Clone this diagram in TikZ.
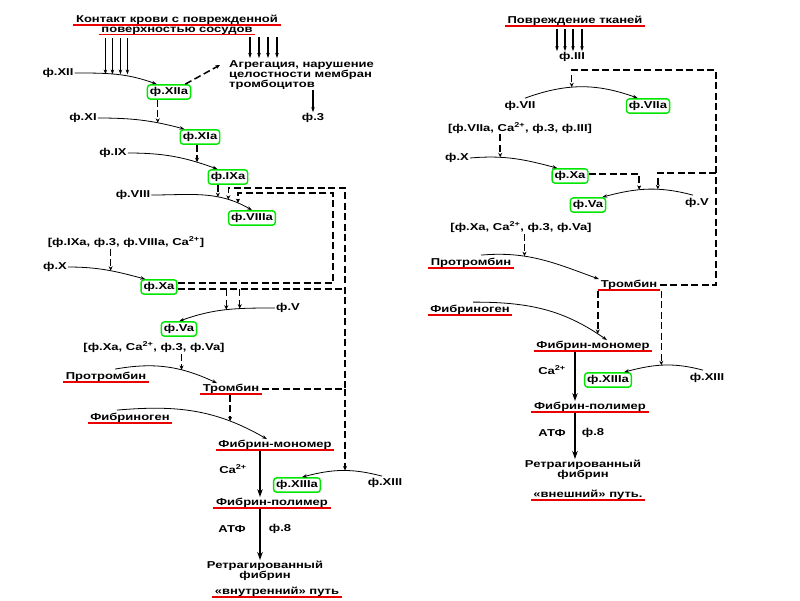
\documentclass[tikz,border=0pt]{standalone}
\usepackage{fontspec}
\setmainfont{Liberation Sans}[FakeStretch=1.3]
\usetikzlibrary{arrows.meta, calc}
\definecolor{boxgreen}{RGB}{0,230,0}
\definecolor{ulred}{RGB}{235,0,0}

\begin{document}
\begin{tikzpicture}[x=1pt, y=1pt,
    lbl/.style={font=\bfseries\fontsize{10}{10}\selectfont, inner sep=1pt},
    fact/.style={lbl, draw=boxgreen, line width=1.4pt, rounded corners=3pt, inner sep=2.5pt},
    uline/.style={lbl, inner xsep=2.5pt},
    redline/.style={draw=ulred, line width=1.6pt},
    flow/.style={-{Stealth[length=5pt, width=3.5pt]}, line width=0.8pt},
    feed/.style={dash pattern=on 7pt off 3.5pt, line width=1.5pt},
    feedarr/.style={feed, -{Stealth[length=4.5pt, width=4pt]}},
    main/.style={-{Stealth[length=8pt, width=5.5pt]}, line width=2pt}
]
\useasboundingbox (0,0) rectangle (800,-600);

% ---------- internal pathway ----------
\node[uline] (ttl1) at (177,-20) {Контакт крови с поврежденной};
\node[uline] (ttl2) at (177,-30.5) {поверхностью сосудов};

\node[lbl] (f12) at (58,-73) {ф.XII};
\node[fact] (f12a) at (169,-92) {ф.XIIa};
\node[lbl, align=left, anchor=north west] (agg) at (228,-59) {Агрегация, нарушение\\целостности мембран\\тромбоцитов};
\node[lbl] (f3) at (313,-118) {ф.3};
\node[lbl] (f11) at (83,-118) {ф.XI};
\node[fact] (f11a) at (200,-137) {ф.XIa};
\node[lbl] (f9) at (113,-153) {ф.IX};
\node[fact] (f9a) at (228,-177) {ф.IXa};
\node[lbl] (f8) at (133,-195) {ф.VIII};
\node[fact] (f8a) at (252,-218) {ф.VIIIa};
\node[lbl] (br1) at (126,-242) {[ф.IXa, ф.3, ф.VIIIa, Ca\textsuperscript{2+}]};
\node[lbl] (f10) at (55,-267) {ф.X};
\node[fact] (f10a) at (159,-287) {ф.Xa};
\node[lbl] (f5) at (288,-308) {ф.V};
\node[fact] (f5a) at (179,-329) {ф.Va};
\node[lbl] (br2) at (154,-347) {[ф.Xa, Ca\textsuperscript{2+}, ф.3, ф.Va]};
\node[uline] (pro) at (106,-377) {Протромбин};
\node[uline] (thr) at (231,-389) {Тромбин};
\node[uline] (fib) at (130,-418) {Фибриноген};
\node[uline] (fm) at (275,-445) {Фибрин-мономер};
\node[lbl] (ca1) at (233,-469) {Ca\textsuperscript{2+}};
\node[lbl] (f13) at (385,-483) {ф.XIII};
\node[fact] (f13a) at (297,-485) {ф.XIIIa};
\node[uline] (fp) at (272,-503) {Фибрин-полимер};
\node[lbl] (atp1) at (232,-529) {АТФ};
\node[lbl] (fe1) at (280,-529) {ф.8};
\node[lbl, align=center] (ret1) at (265,-571) {Ретрагированный\\фибрин};
\node[uline] (path1) at (277,-592) {«внутренний» путь};

% curves of activation
\draw[flow] (f12.east) to[out=0, in=160] coordinate[pos=0.5] (j12) ([xshift=10pt]f12a.north west);
\draw[flow] (f11.east) to[out=0, in=165] coordinate[pos=0.7] (j11) ([xshift=5pt]f11a.north west);
\draw[flow] (f9.east) to[out=0, in=160] coordinate[pos=0.78] (j9) ([xshift=10pt]f9a.north west);
\draw[flow] (f8.east) to[out=0, in=150] coordinate[pos=0.65] (j8a) coordinate[pos=0.76] (j8b) coordinate[pos=0.86] (j8c) (f8a.north);
\draw[flow] (f10.east) to[out=0, in=165] coordinate[pos=0.55] (j10) ([xshift=5pt]f10a.north west);
\draw[flow] (f5.west) to[out=180, in=20] coordinate[pos=0.35] (j5b) coordinate[pos=0.5] (j5a) ([xshift=-18pt]f5a.north east);
\draw[flow] ([xshift=9pt, yshift=2pt]pro.north) to[out=10, in=155] coordinate[pos=0.65] (j6) ([xshift=-14pt]thr.north);
\draw[flow] ([xshift=-13pt, yshift=2pt]fib.north) to[out=5, in=150] coordinate[pos=0.75] (j7) ([xshift=-8pt]fm.north);
\draw[flow] ([xshift=-3pt, yshift=1pt]f13.north) to[out=165, in=15] coordinate[pos=0.45] (j13) ([xshift=5pt]f13a.north);

% contact and platelets
\foreach \dx in {-11,-4,4,11}
  \draw[flow, line width=1.3pt] ($(j12 |- ttl2.south)+(\dx,-3)$) -- ($(j12)+(\dx,0)$);
\foreach \dx in {22,31,40,49}
  \draw[flow, line width=1.3pt] ($(agg.north west |- ttl2.south)+(\dx,-2)$) -- ($(agg.north west)+(\dx,1)$);
\draw[feedarr] ([xshift=-6pt]f12a.north east) -- ([xshift=-8pt, yshift=-6pt]agg.north west);
\draw[flow, line width=1.3pt] (f3 |- agg.south) -- (f3.north);

% cascade
\draw[feedarr] (f12a.south -| j11) -- (j11);
\draw[feedarr] (f11a.south -| j9) -- (j9);
\draw[feedarr] (f9a.south -| j8a) -- (j8a);
\draw[feedarr] (br1.south -| j10) -- (j10);
\draw[feedarr] (br2.south -| j6) -- (j6);
\draw[feedarr] (thr.south -| j7) -- (j7);

% feedback loops
\coordinate (li) at (333,-193);
\coordinate (lo) at (345,-188);
\coordinate (xl) at ([yshift=-2pt]f10a.east);
\draw[feedarr] ([yshift=4pt]f10a.east) -| (li) -- (li -| j8c) -- (j8c);
\draw[feedarr] (thr.east) -| (lo) -- (lo -| j8b) -- (j8b);
\draw[feed] (xl) -- (xl -| lo);
\draw[feedarr] (xl -| j5a) -- (j5a);
\draw[feedarr] (xl -| j5b) -- (j5b);
\draw[feedarr] (lo |- thr.east) -- (lo |- j13);

% fibrin
\draw[main] ([xshift=-15pt]fm.south) -- ([xshift=-15pt]fm.south |- fp.north);
\draw[main] ([xshift=-12pt]fp.south) -- ([xshift=-12pt]fp.south |- ret1.north);

% ---------- external pathway ----------
\node[uline] (rttl) at (575,-21) {Повреждение тканей};
\node[lbl] (f3r) at (572,-57) {ф.III};
\node[lbl] (f7r) at (520,-106) {ф.VII};
\node[fact] (f7ar) at (648,-106) {ф.VIIa};
\node[lbl] (br3) at (520,-128) {[ф.VIIa, Ca\textsuperscript{2+}, ф.3, ф.III]};
\node[lbl] (f10r) at (457,-158) {ф.X};
\node[fact] (f10ar) at (570,-176) {ф.Xa};
\node[lbl] (f5r) at (697,-203) {ф.V};
\node[fact] (f5ar) at (588,-205) {ф.Va};
\node[lbl] (br4) at (521,-227) {[ф.Xa, Ca\textsuperscript{2+}, ф.3, ф.Va]};
\node[uline] (pror) at (471,-263) {Протромбин};
\node[uline] (thrr) at (629,-285) {Тромбин};
\node[uline] (fibr) at (470,-310) {Фибриноген};
\node[uline] (fmr) at (593,-346) {Фибрин-мономер};
\node[lbl] (ca2) at (552,-370) {Ca\textsuperscript{2+}};
\node[fact] (f13ar) at (608,-380) {ф.XIIIa};
\node[lbl] (f13r) at (707,-378) {ф.XIII};
\node[uline] (fpr) at (590,-407) {Фибрин-полимер};
\node[lbl] (atp2) at (552,-433) {АТФ};
\node[lbl] (fe2) at (593,-433) {ф.8};
\node[lbl, align=center] (ret2) at (583,-470) {Ретрагированный\\фибрин};
\node[uline] (path2) at (588,-495) {«внешний» путь.};

\foreach \dx in {-15,-7,1,10}
  \draw[flow, line width=1.3pt] ($(rttl.south -| f3r)+(\dx,-2)$) -- ($(f3r.north)+(\dx,0)$);

\draw[flow] ([xshift=5pt, yshift=2pt]f7r.north) to[out=20, in=160] coordinate[pos=0.41] (j7r) ([xshift=12pt]f7ar.north west);
\draw[flow] (f10r.east) to[out=5, in=165] coordinate[pos=0.33] (j10r) ([xshift=6pt]f10ar.north west);
\draw[flow] ([xshift=-4pt, yshift=2pt]f5r.north) to[out=165, in=15] coordinate[pos=0.38] (j5r2) coordinate[pos=0.6] (j5r1) ([xshift=-4pt]f5ar.north east);
\draw[flow] ([xshift=10pt, yshift=2pt]pror.north) to[out=5, in=160] coordinate[pos=0.35] (j6r) ([xshift=-30pt]thrr.north);
\draw[flow] ([xshift=3pt, yshift=2pt]fibr.north) to[out=0, in=145] coordinate[pos=0.93] (j7fr) ([xshift=14pt]fmr.north);
\draw[flow] ([xshift=-4pt, yshift=2pt]f13r.north) to[out=165, in=15] coordinate[pos=0.53] (j13r) ([xshift=-8pt]f13ar.north east);

\draw[feedarr] (br3.south -| j10r) -- (j10r);
\draw[feedarr] (br4.south -| j6r) -- (j6r);
\draw[feedarr] ([yshift=2pt]f10ar.east) -| (j5r1);
\coordinate (rl) at (716,-70);
\coordinate (rb) at (716,-173);
\draw[feedarr] (thrr.east) -| (rl) -- (rl -| j7r) -- (j7r);
\draw[feedarr] (rb) -- (rb -| j5r2) -- (j5r2);
\draw[feedarr] (thrr.south -| j7fr) -- (j7fr);
\draw[feedarr] (thrr.south -| j13r) -- (j13r);

\draw[main] ([xshift=-18pt]fmr.south) -- ([xshift=-18pt]fmr.south |- fpr.north);
\draw[main] ([xshift=-15pt]fpr.south) -- ([xshift=-15pt]fpr.south |- ret2.north);

% red underlines
\foreach \n in {ttl1,ttl2,pro,thr,fib,fm,fp,path1,rttl,pror,thrr,fibr,fmr,fpr,path2}
  \draw[redline] ([yshift=1pt]\n.south west) -- ([yshift=1pt]\n.south east);

\end{tikzpicture}
\end{document}
